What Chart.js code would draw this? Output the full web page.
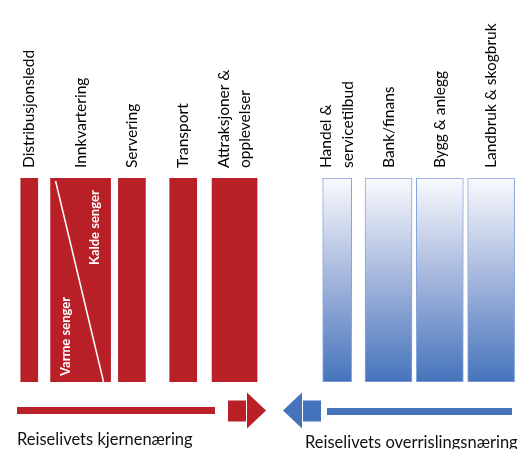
<!DOCTYPE html>
<html><head><meta charset="utf-8">
<script src="https://cdn.jsdelivr.net/npm/chart.js@4"></script>
<style>html,body{margin:0;padding:0;background:#fff}canvas{display:block}</style>
</head><body>
<canvas id="c" width="526" height="449"></canvas>
<script>
// ---- data ----
const categories = [
  'Distribusjonsledd',
  'Innkvartering',
  'Servering',
  'Transport',
  ['Attraksjoner &', 'opplevelser'],
  '',
  ['Handel &', 'servicetilbud'],
  'Bank/finans',
  'Bygg & anlegg',
  'Landbruk & skogbruk'
];
const groups = ['core', 'core', 'core', 'core', 'core', null, 'spill', 'spill', 'spill', 'spill'];
const values = [100, 100, 100, 100, 100, null, 100, 100, 100, 100];
const subLabels = ['Varme senger', 'Kalde senger'];
const groupNames = ['Reiselivets kjernenæring', 'Reiselivets overrislingsnæring'];

// ---- style ----
const barWidths = [17, 60, 27, 27, 45, 0, 29, 47, 47, 47];
const RED = '#b81f26';
const BLUE = '#4574bc';
const FONT = 'Lato';
const TICK_SIZE = 15.5;
const LINE_PITCH = 21.5;

function blueGradient(ctx) {
  const chart = ctx.chart;
  const a = chart.chartArea;
  if (!a) return BLUE;
  const g = chart.ctx.createLinearGradient(0, a.top, 0, a.bottom);
  g.addColorStop(0, '#f9fafd');
  g.addColorStop(0.5, '#a3b5dc');
  g.addColorStop(1, BLUE);
  return g;
}

const datasets = [];
values.forEach((v, i) => {
  if (v == null) return;
  const core = groups[i] === 'core';
  datasets.push({
    label: Array.isArray(categories[i]) ? categories[i].join(' ') : categories[i],
    catIndex: i,
    data: values.map((_, j) => (j === i ? v : null)),
    grouped: false,
    barThickness: barWidths[i],
    backgroundColor: core ? RED : blueGradient,
    borderColor: core ? RED : '#86a6dc',
    borderWidth: core ? 0 : 1,
    borderSkipped: false
  });
});

const overlay = {
  id: 'overlay',
  afterDatasetsDraw(chart) {
    const ctx = chart.ctx;
    const a = chart.chartArea;
    // Innkvartering split
    const dsi = chart.data.datasets.findIndex(d => d.catIndex === 1);
    const el = chart.getDatasetMeta(dsi).data[1];
    const left = el.x - el.width / 2, right = el.x + el.width / 2;
    const top = el.y, bottom = el.base;
    ctx.save();
    ctx.strokeStyle = '#ffffff';
    ctx.lineWidth = 1.5;
    ctx.beginPath();
    ctx.moveTo(left + 5, top + 3);
    ctx.lineTo(right - 7, bottom);
    ctx.stroke();
    ctx.fillStyle = '#ffffff';
    ctx.font = 'bold 13px ' + FONT;
    ctx.textAlign = 'left';
    ctx.textBaseline = 'middle';
    ctx.save();
    ctx.translate(left + 15.5, bottom - 6);
    ctx.rotate(-Math.PI / 2);
    ctx.fillText(subLabels[0], 0, 0);
    ctx.restore();
    ctx.save();
    ctx.translate(right - 15.5, top + 87);
    ctx.rotate(-Math.PI / 2);
    ctx.fillText(subLabels[1], 0, 0);
    ctx.restore();

    // arrows
    const y0 = a.bottom + 28.5;
    const mid = 274.5;
    ctx.fillStyle = RED;
    ctx.fillRect(17, y0 - 3.5, 198, 7);
    ctx.fillRect(mid - 46.5, y0 - 10, 18, 21);
    ctx.beginPath();
    ctx.moveTo(mid - 27.5, y0 - 18);
    ctx.lineTo(mid - 8.5, y0);
    ctx.lineTo(mid - 27.5, y0 + 18);
    ctx.closePath();
    ctx.fill();
    ctx.fillStyle = BLUE;
    ctx.beginPath();
    ctx.moveTo(mid + 27.5, y0 - 18);
    ctx.lineTo(mid + 8.5, y0);
    ctx.lineTo(mid + 27.5, y0 + 18);
    ctx.closePath();
    ctx.fill();
    ctx.fillRect(mid + 28.5, y0 - 10, 18, 21);
    ctx.fillRect(mid + 52.5, y0 - 2.5, 185, 7);

    // captions
    ctx.fillStyle = '#111';
    ctx.font = '16.5px ' + FONT;
    ctx.textAlign = 'left';
    ctx.textBaseline = 'alphabetic';
    ctx.fillText(groupNames[0], 17, 445);
    ctx.fillText(groupNames[1], 305, 448);
    ctx.restore();
  }
};

new Chart(document.getElementById('c'), {
  type: 'bar',
  data: { labels: categories, datasets },
  options: {
    responsive: false,
    animation: false,
    layout: { padding: { left: 3.6, right: 9.2, top: 0, bottom: 67 } },
    plugins: { legend: { display: false }, tooltip: { enabled: false } },
    scales: {
      x: {
        position: 'top',
        grid: { display: false, drawTicks: false },
        border: { display: false },
        ticks: {
          autoSkip: false,
          minRotation: 90,
          maxRotation: 90,
          padding: 10,
          labelOffset: 1.5 * LINE_PITCH,
          color: '#000',
          font: (c) => {
            const multi = Array.isArray(categories[c.index]);
            return {
              family: FONT,
              size: TICK_SIZE,
              lineHeight: (multi ? LINE_PITCH : 1.5 * LINE_PITCH) + 'px'
            };
          }
        },
        afterFit(scale) {
          scale.height = 178;
          scale.paddingLeft = 0;
          scale.paddingRight = 0;
        }
      },
      y: { display: false, min: 0, max: 100 }
    }
  },
  plugins: [overlay]
});
</script>
</body></html>
